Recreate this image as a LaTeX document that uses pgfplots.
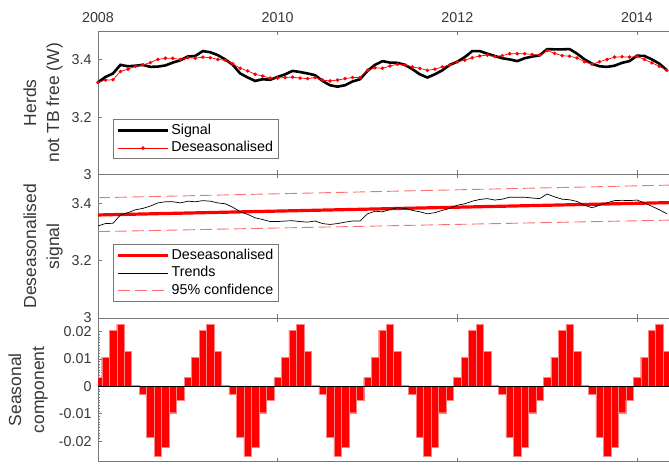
\documentclass[border=0pt]{standalone}
\usepackage{fontspec}
\setmainfont{Liberation Sans}
\usepackage{pgfplots}
\usepackage{pgfplotstable}
\pgfplotsset{compat=1.18}
\definecolor{axgray}{RGB}{120,120,120}
\definecolor{txtgray}{RGB}{55,55,55}
\definecolor{confred}{RGB}{255,110,110}

\pgfplotstableread{
k S D
0 3.321 3.321
1 3.340 3.329
2 3.352 3.330
3 3.382 3.359
4 3.377 3.367
5 3.379 3.377
6 3.382 3.382
7 3.375 3.390
8 3.376 3.401
9 3.380 3.405
10 3.390 3.405
11 3.398 3.401
12 3.411 3.407
13 3.413 3.405
14 3.430 3.409
15 3.426 3.407
16 3.416 3.401
17 3.401 3.398
18 3.382 3.386
19 3.352 3.370
20 3.338 3.361
21 3.326 3.349
22 3.332 3.343
23 3.330 3.336
24 3.340 3.336
25 3.349 3.338
26 3.361 3.339
27 3.357 3.336
28 3.352 3.334
29 3.346 3.338
30 3.326 3.329
31 3.311 3.326
32 3.306 3.329
33 3.311 3.334
34 3.324 3.338
35 3.332 3.338
36 3.361 3.363
37 3.382 3.372
38 3.395 3.370
39 3.390 3.378
40 3.389 3.384
41 3.382 3.382
42 3.367 3.375
43 3.349 3.370
44 3.338 3.363
45 3.349 3.367
46 3.363 3.375
47 3.382 3.382
48 3.393 3.393
49 3.409 3.398
50 3.430 3.407
51 3.430 3.413
52 3.421 3.416
53 3.413 3.411
54 3.405 3.414
55 3.401 3.421
56 3.395 3.421
57 3.405 3.421
58 3.411 3.418
59 3.415 3.416
60 3.437 3.432
61 3.436 3.422
62 3.436 3.414
63 3.437 3.412
64 3.421 3.406
65 3.401 3.393
66 3.386 3.384
67 3.377 3.393
68 3.375 3.401
69 3.379 3.409
70 3.389 3.410
71 3.395 3.409
72 3.414 3.411
73 3.413 3.401
74 3.401 3.389
75 3.386 3.377
76 3.363 3.363
}\maindata

\pgfplotstableread{
k s
0 0.0032
1 0.0107
2 0.0206
3 0.0227
4 0.0127
5 0.0005
6 -0.0029
7 -0.0185
8 -0.0254
9 -0.0221
10 -0.0096
11 -0.0050
12 0.0032
13 0.0107
14 0.0206
15 0.0227
16 0.0127
17 0.0005
18 -0.0029
19 -0.0185
20 -0.0254
21 -0.0221
22 -0.0096
23 -0.0050
24 0.0032
25 0.0107
26 0.0206
27 0.0227
28 0.0127
29 0.0005
30 -0.0029
31 -0.0185
32 -0.0254
33 -0.0221
34 -0.0096
35 -0.0050
36 0.0032
37 0.0107
38 0.0206
39 0.0227
40 0.0127
41 0.0005
42 -0.0029
43 -0.0185
44 -0.0254
45 -0.0221
46 -0.0096
47 -0.0050
48 0.0032
49 0.0107
50 0.0206
51 0.0227
52 0.0127
53 0.0005
54 -0.0029
55 -0.0185
56 -0.0254
57 -0.0221
58 -0.0096
59 -0.0050
60 0.0032
61 0.0107
62 0.0206
63 0.0227
64 0.0127
65 0.0005
66 -0.0029
67 -0.0185
68 -0.0254
69 -0.0221
70 -0.0096
71 -0.0050
72 0.0032
73 0.0107
74 0.0206
75 0.0227
76 0.0127
77 0.0005
}\seasdata

\pgfplotsset{
  panel/.style={
    scale only axis, width=571pt, height=143.5pt,
    xmin=0, xmax=76.28,
    axis y line*=left,
    axis line style={draw=axgray, line width=0.8pt},
    every tick/.style={draw=axgray, line width=0.8pt},
    major tick length=4pt, tick align=inside,
    tick label style={font=\fontsize{14.3}{17}\selectfont, text=txtgray},
    yticklabel style={xshift=-3pt},
    scaled y ticks=false,
    xtick={0,24,48,72}, xtick pos=both,
    ylabel style={font=\fontsize{17.5}{23}\selectfont, text=txtgray, align=center,
      rotate=0, anchor=south, inner sep=0pt},
    legend style={draw=axgray, line width=0.8pt, fill=white,
      font=\fontsize{14.3}{17}\selectfont, text=black,
      anchor=south west, inner xsep=3pt, inner ysep=2pt, row sep=0pt,
      nodes={inner sep=2pt, text height=10.5pt, text depth=3pt}},
    legend cell align=left,
    legend image code/.code={\draw[mark repeat=2,mark phase=2,#1] plot coordinates {(0pt,0pt) (25pt,0pt) (50pt,0pt)};},
  }
}

\begin{document}
\begin{tikzpicture}
\useasboundingbox (0pt,0pt) rectangle (669pt,465pt);

% top panel
\begin{axis}[panel, at={(98pt,290.5pt)}, anchor=south west,
  ymin=3, ymax=3.5, ytick={3,3.2,3.4}, yticklabels={3,3.2,3.4},
  xticklabel pos=upper, xticklabels={2008,2010,2012,2014},
  xticklabel style={yshift=5pt},
  ylabel={Herds\\not TB free (W)},
  every axis y label/.append style={at={(axis description cs:-0.0613,0.5)}},
  legend style={at={(axis description cs:0.0268,0.106)}},
]
\addplot[black, line width=2.6pt] table[x=k, y=S] {\maindata};
\addlegendentry{Signal}
\addplot[red, line width=0.7pt, mark=*, mark size=1.4pt, mark options={fill=red, draw=red}] table[x=k, y=D] {\maindata};
\addlegendentry{Deseasonalised}
\end{axis}

% middle panel
\begin{axis}[panel, at={(98pt,147pt)}, anchor=south west,
  ymin=3, ymax=3.5, ytick={3,3.2,3.4}, yticklabels={3,3.2,3.4},
  xticklabels={},
  ylabel={Deseasonalised\\signal},
  every axis y label/.append style={at={(axis description cs:-0.0613,0.5)}},
  legend style={at={(axis description cs:0.0263,0.1136)}},
]
\addplot[red, line width=3.2pt] coordinates {(0,3.359) (76.3,3.402)};
\addlegendentry{Deseasonalised}
\addplot[black, line width=0.7pt] table[x=k, y=D] {\maindata};
\addlegendentry{Trends}
\addplot[confred, line width=0.9pt, dash pattern=on 12pt off 5pt] coordinates {(0,3.419) (76.3,3.463)};
\addlegendentry{95\% confidence}
\addplot[confred, line width=0.9pt, dash pattern=on 12pt off 5pt, forget plot] coordinates {(0,3.301) (76.3,3.341)};
\end{axis}

% bottom panel
\begin{axis}[panel, at={(98pt,3.3pt)}, anchor=south west,
  height=143.7pt,
  ymin=-0.0275, ymax=0.025,
  ytick={-0.02,-0.01,0,0.01,0.02}, yticklabels={-0.02,-0.01,0,0.01,0.02},
  minor y tick num=9, minor tick length=2pt,
  xticklabels={},
  ylabel={Seasonal\\component},
  every axis y label/.append style={at={(axis description cs:-0.0876,0.5)}},
]
\addplot[ybar, bar width=1, fill=red, draw={rgb,255:red,255;green,130;blue,130}, line width=0.4pt] table[x=k, y=s] {\seasdata};
\addplot[black, line width=0.8pt] coordinates {(0,0) (76.3,0)};
\end{axis}
\end{tikzpicture}
\end{document}
